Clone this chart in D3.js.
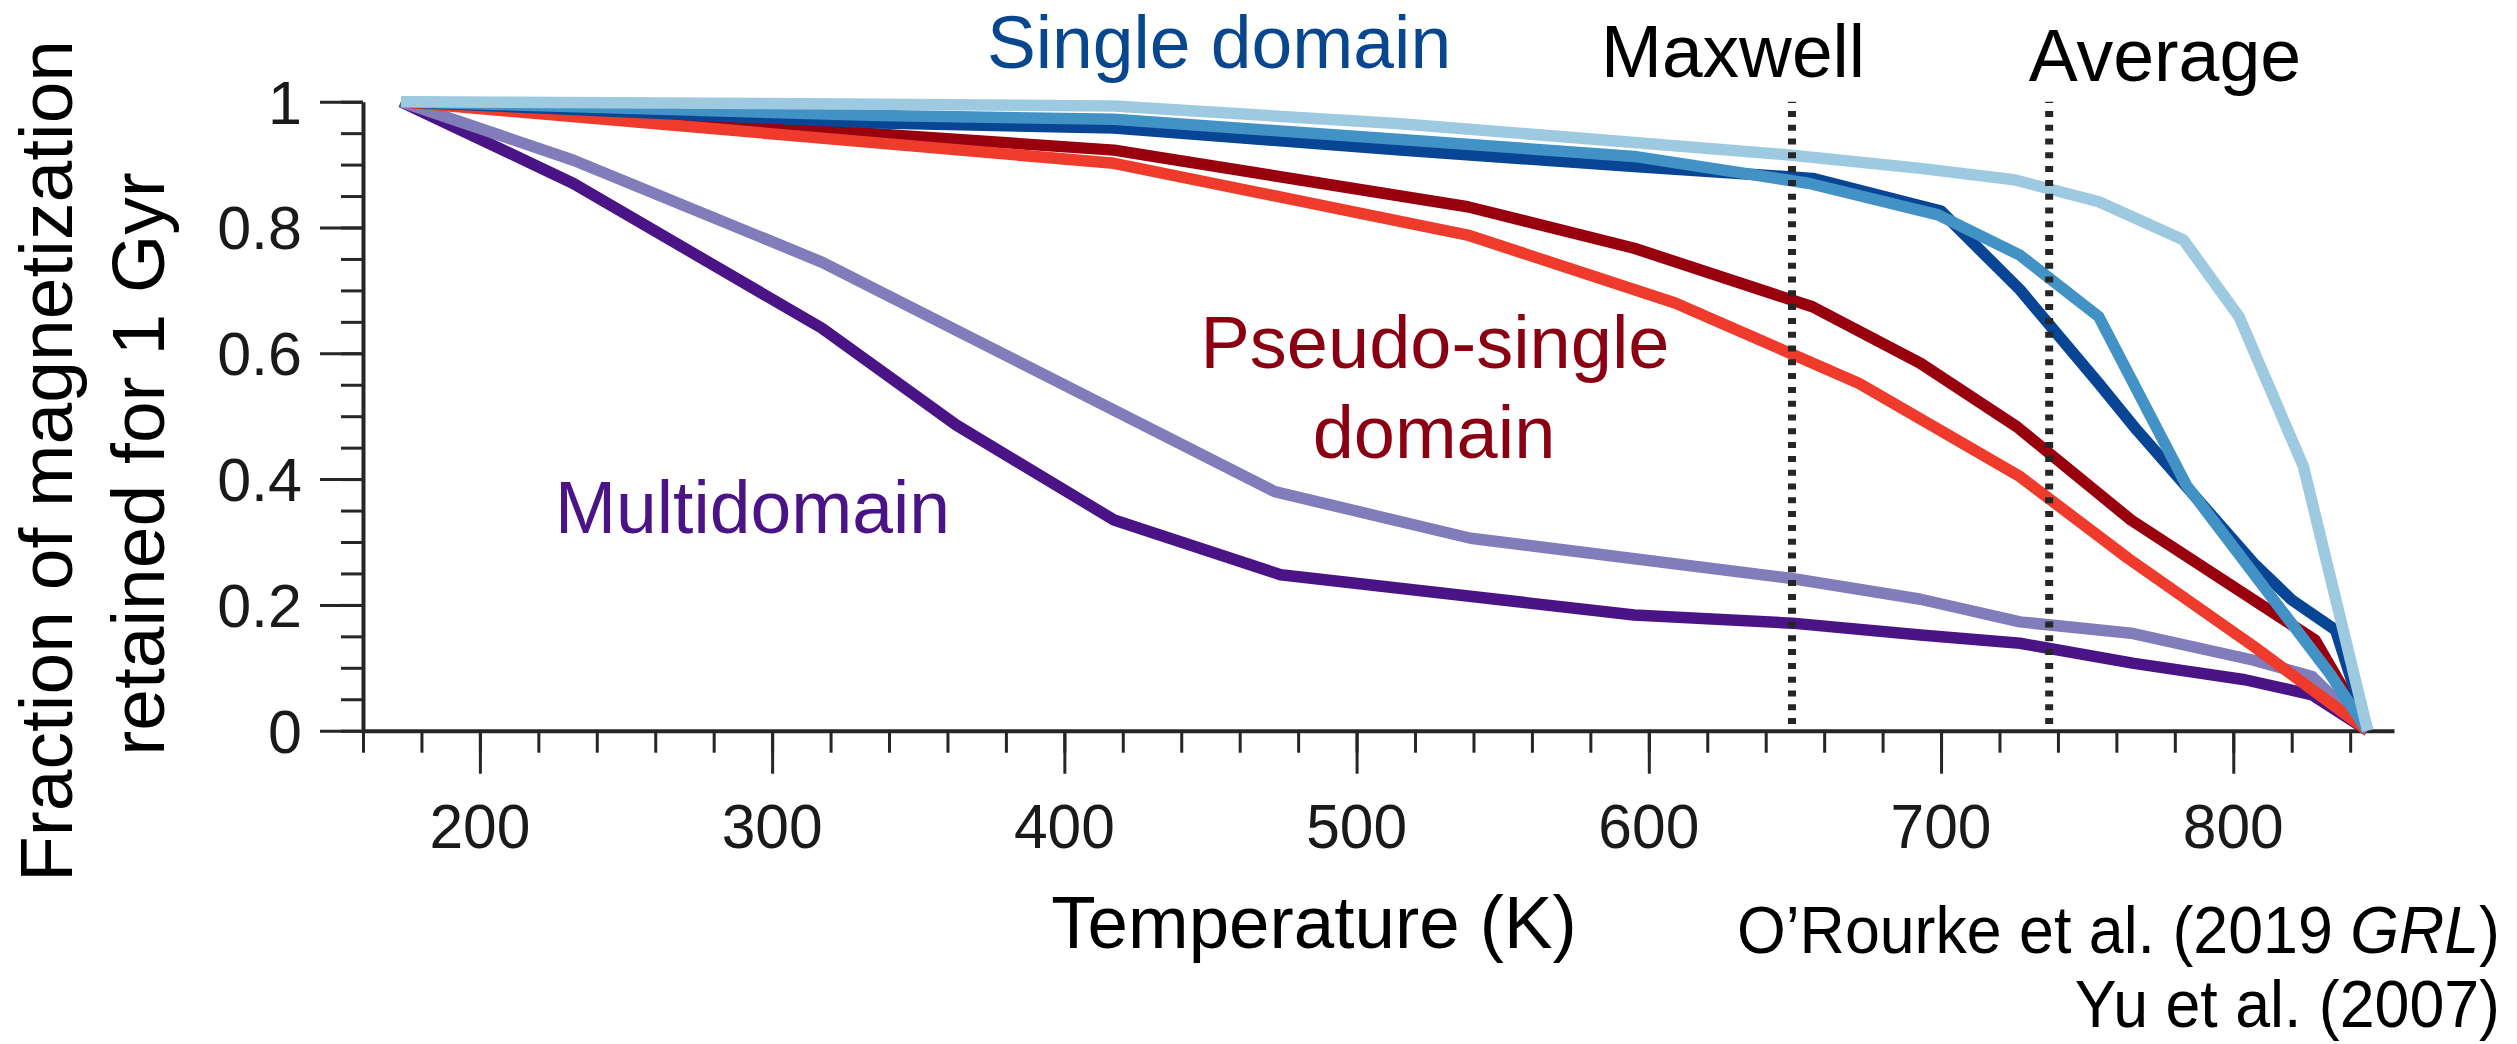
<!DOCTYPE html>
<html>
<head>
<meta charset="utf-8">
<script src="https://cdn.jsdelivr.net/npm/d3@7"></script>
<style>
  html, body { margin: 0; padding: 0; background: #fff; }
  svg { display: block; }
  text { font-family: "Liberation Sans", Arial, Helvetica, sans-serif; }
</style>
</head>
<body>
<svg id="chart" width="2517" height="1044"></svg>
<script>
// Fraction of magnetization retained for 1 Gyr vs. temperature, [K, fraction]
const singleDomainWarm = [[173,1],[337,0.996],[417,0.993],[515,0.965],[649,0.915],[693,0.894],[725,0.876],[754,0.841],[783,0.780],[802,0.658],[824,0.420],[846,0]];
const singleDomainMid  = [[173,1],[337,0.978],[417,0.972],[515,0.940],[595,0.913],[655,0.870],[699,0.820],[727,0.756],[754,0.658],[784,0.390],[833,0.091],[846,0]];
const singleDomainCool = [[173,1],[337,0.966],[417,0.958],[515,0.923],[595,0.897],[656,0.878],[700,0.826],[727,0.701],[754,0.552],[767,0.478],[807,0.266],[820,0.208],[835,0.160],[846,0]];
const pseudoSingleA    = [[173,1],[417,0.923],[538,0.833],[595,0.767],[656,0.674],[693,0.584],[726,0.483],[765,0.335],[828,0.144],[846,0]];
const pseudoSingleB    = [[173,1],[417,0.902],[538,0.788],[609,0.680],[672,0.552],[727,0.404],[764,0.274],[807,0.134],[846,0]];
const multiDomainA     = [[173,1],[232,0.907],[317,0.745],[472,0.380],[539,0.306],[649,0.242],[693,0.209],[727,0.173],[765,0.155],[807,0.112],[827,0.086],[846,0]];
const multiDomainB     = [[173,1],[232,0.870],[317,0.640],[363,0.486],[417,0.335],[474,0.248],[595,0.184],[649,0.171],[693,0.152],[727,0.139],[766,0.107],[804,0.081],[827,0.057],[846,0]];

// Reference temperatures marked by dotted lines
const markerTemps  = [649, 737];
const markerLabels = ["Maxwell", "Average"];

// Axis ticks
const xMajorTicks = [200, 300, 400, 500, 600, 700, 800];
const xMinorTicks = d3.range(160, 841, 20);
const yMajorTicks = [0, 0.2, 0.4, 0.6, 0.8, 1];
const yMinorTicks = d3.range(21).map(i => +(i * 0.05).toFixed(2));
const yTickLabels = ["0", "0.2", "0.4", "0.6", "0.8", "1"];

const svg = d3.select("#chart");
svg.append("rect").attr("width", 2517).attr("height", 1044).attr("fill", "#fff");

const x = d3.scaleLinear().domain([160, 855]).range([363, 2394]);
const y = d3.scaleLinear().domain([0, 1]).range([730.7, 101.7]);

const axisColor = "#262626";

function styleAxis(g, domainWidth) {
  g.selectAll(".tick line").attr("stroke", axisColor).attr("stroke-width", 3);
  g.selectAll(".domain").attr("stroke", axisColor).attr("stroke-width", domainWidth);
  g.selectAll("text").remove();
}

// x axis: minor then major ticks, pointing down
const gxMinor = svg.append("g").attr("transform", `translate(0,${y(0)})`)
  .call(d3.axisBottom(x).tickValues(xMinorTicks).tickSize(22).tickSizeOuter(0).tickFormat(""));
styleAxis(gxMinor, 4);
const gxMajor = svg.append("g").attr("transform", `translate(0,${y(0)})`)
  .call(d3.axisBottom(x).tickValues(xMajorTicks).tickSize(43).tickSizeOuter(0).tickFormat(""));
styleAxis(gxMajor, 0);
gxMajor.select(".domain").remove();

// y axis: minor then major ticks, pointing left
const gyMinor = svg.append("g").attr("transform", `translate(${x(160)},0)`)
  .call(d3.axisLeft(y).tickValues(yMinorTicks).tickSize(22).tickSizeOuter(0).tickFormat(""));
styleAxis(gyMinor, 4);
const gyMajor = svg.append("g").attr("transform", `translate(${x(160)},0)`)
  .call(d3.axisLeft(y).tickValues(yMajorTicks).tickSize(43).tickSizeOuter(0).tickFormat(""));
styleAxis(gyMajor, 0);
gyMajor.select(".domain").remove();

function label(txt, px, py, size, anchor, sx, color) {
  return svg.append("text")
    .attr("transform", `translate(${px},${py}) scale(${sx},1)`)
    .attr("text-anchor", anchor)
    .style("font-size", size + "px")
    .attr("fill", color || "#000")
    .text(txt);
}

// tick labels
xMajorTicks.forEach(t => label(String(t), x(t), 848, 63, "middle", 0.96, "#1a1a1a"));
yMajorTicks.forEach((v, i) => label(yTickLabels[i], 302, y(v) + 21.8, 61, "end", 1, "#1a1a1a"));

// curves
const line = d3.line().x(d => x(d[0])).y(d => y(d[1]));
const series = [
  { data: multiDomainB,     color: "#4a1486" },
  { data: multiDomainA,     color: "#807dba" },
  { data: pseudoSingleA,    color: "#99000d" },
  { data: pseudoSingleB,    color: "#ef3b2c" },
  { data: singleDomainCool, color: "#084594" },
  { data: singleDomainMid,  color: "#4292c6" },
  { data: singleDomainWarm, color: "#9ecae1" }
];
svg.append("g").selectAll("path").data(series).join("path")
  .attr("d", d => line(d.data))
  .attr("fill", "none")
  .attr("stroke", d => d.color)
  .attr("stroke-width", 11.5)
  .attr("stroke-linejoin", "round")
  .attr("stroke-linecap", "butt");

// dotted reference lines
svg.append("g").selectAll("line").data(markerTemps).join("line")
  .attr("x1", d => x(d)).attr("x2", d => x(d))
  .attr("y1", y(1)).attr("y2", y(0))
  .attr("stroke", "#262626")
  .attr("stroke-width", 8)
  .attr("stroke-dasharray", "6 7.8")
  .attr("stroke-dashoffset", 4.6);

// marker labels
label(markerLabels[0], 1733, 77, 75, "middle", 0.975);
label(markerLabels[1], 2165, 81, 75, "middle", 0.98);

// group labels
label("Single domain", 1219, 68, 74, "middle", 0.99, "#08478f");
label("Pseudo-single", 1435, 368, 74, "middle", 1, "#8a0012");
label("domain", 1434, 458, 74, "middle", 1, "#8a0012");
label("Multidomain", 555, 533, 74, "start", 0.99, "#4a1486");

// axis titles
label("Temperature (K)", 1314, 947.5, 75, "middle", 0.97);
svg.append("text")
  .attr("transform", "translate(72,461) rotate(-90)")
  .attr("text-anchor", "middle")
  .style("font-size", "75px")
  .text("Fraction of magnetization");
svg.append("text")
  .attr("transform", "translate(164,464) rotate(-90)")
  .attr("text-anchor", "middle")
  .style("font-size", "75px")
  .text("retained for 1 Gyr");

// sources
const src1 = label("", 2500, 953, 66, "end", 0.95);
src1.append("tspan").text("O\u2019Rourke et al. (2019 ");
src1.append("tspan").style("font-style", "italic").text("GRL");
src1.append("tspan").text(")");
label("Yu et al. (2007)", 2500, 1027, 66, "end", 0.95);
</script>
</body>
</html>
